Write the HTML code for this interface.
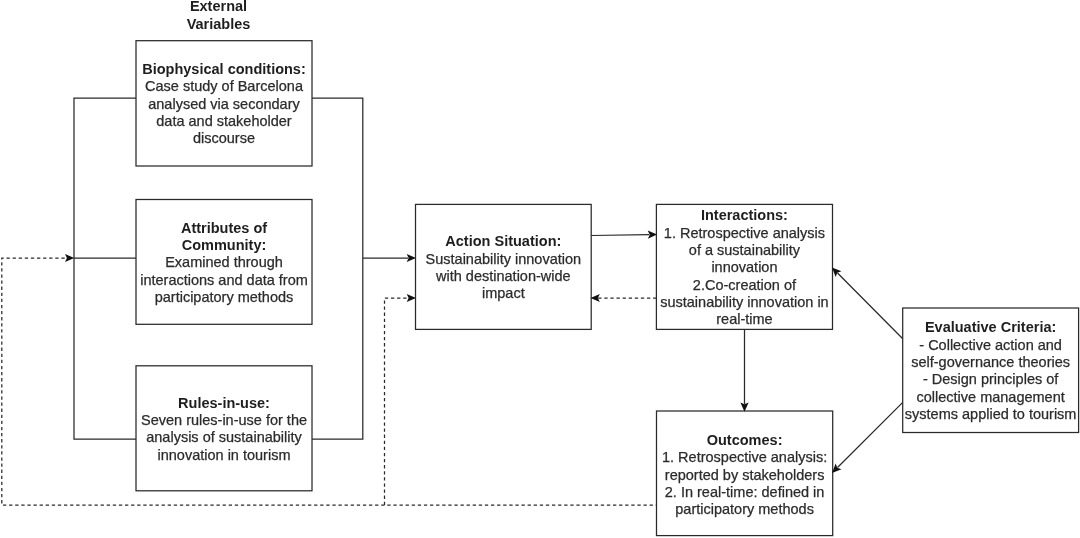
<!DOCTYPE html>
<html><head><meta charset="utf-8"><style>
html,body{margin:0;padding:0;background:#fff;width:1080px;height:538px;overflow:hidden;position:relative}
#wrap{position:absolute;left:0;top:0;width:1080px;height:538px;filter:blur(0.4px)}
body{font-family:"Liberation Sans",sans-serif;font-size:14.50px;line-height:17.35px}
svg{position:absolute;left:0;top:0}
.box{position:absolute;display:flex;align-items:center;justify-content:center;text-align:center;white-space:nowrap}
.b{font-weight:bold;color:#1e1e1e}
.n{color:#2b2b2b;-webkit-text-stroke:0.25px #2b2b2b}
</style></head><body>
<div id="wrap"><svg width="1080" height="538" viewBox="0 0 1080 538"><rect x="136.00" y="40.70" width="176.00" height="125.30" fill="none" stroke="#2a2a2a" stroke-width="1.25"/>
<rect x="136.00" y="199.50" width="176.00" height="124.80" fill="none" stroke="#2a2a2a" stroke-width="1.25"/>
<rect x="136.00" y="365.80" width="176.00" height="125.00" fill="none" stroke="#2a2a2a" stroke-width="1.25"/>
<rect x="415.50" y="204.40" width="175.70" height="125.00" fill="none" stroke="#2a2a2a" stroke-width="1.25"/>
<rect x="656.40" y="204.40" width="176.10" height="125.00" fill="none" stroke="#2a2a2a" stroke-width="1.25"/>
<rect x="656.50" y="411.00" width="176.20" height="124.60" fill="none" stroke="#2a2a2a" stroke-width="1.25"/>
<rect x="902.70" y="308.00" width="175.90" height="124.50" fill="none" stroke="#2a2a2a" stroke-width="1.25"/>
<path d="M136,98 H74 V439 H136 M74,258 H136 M312,98 H362.8 V439 H312 M362.8,258 H408" fill="none" stroke="#2a2a2a" stroke-width="1.25"/>
<polygon points="416.00,258.00 406.70,262.10 408.60,258.00 406.70,253.90" fill="#111"/>
<path d="M591.2,235.5 L649,234.7 M744.5,329.4 V404 M902.5,338.5 L837.5,273 M902.5,402.6 L837.5,467.5" fill="none" stroke="#2a2a2a" stroke-width="1.25"/>
<polygon points="657.10,234.59 647.86,238.82 649.70,234.69 647.74,230.62" fill="#111"/>
<polygon points="744.50,411.70 740.40,402.40 744.50,404.30 748.60,402.40" fill="#111"/>
<polygon points="832.01,267.50 841.47,271.21 837.22,272.75 835.65,276.99" fill="#111"/>
<polygon points="832.00,472.99 835.69,463.52 837.24,467.77 841.48,469.32" fill="#111"/>
<path d="M656.5,505 H1.8 V258 H67" fill="none" stroke="#2a2a2a" stroke-width="1.25" stroke-dasharray="3.3 2.8" stroke-dashoffset="2.5"/>
<path d="M384.5,505 V298 H408 M656.4,298 H598" fill="none" stroke="#2a2a2a" stroke-width="1.25" stroke-dasharray="3.3 2.8"/>
<polygon points="74.30,258.00 65.00,262.10 66.90,258.00 65.00,253.90" fill="#111"/>
<polygon points="416.00,298.00 406.70,302.10 408.60,298.00 406.70,293.90" fill="#111"/>
<polygon points="590.50,298.00 599.80,293.90 597.90,298.00 599.80,302.10" fill="#111"/></svg>
<div class="box" style="left:136.00px;top:40.70px;width:176.00px;height:125.30px"><div style="transform:translateY(1.30px)"><div class="b">Biophysical conditions:</div><div class="n">Case study of Barcelona</div><div class="n">analysed via secondary</div><div class="n">data and stakeholder</div><div class="n">discourse</div></div></div>
<div class="box" style="left:136.00px;top:199.50px;width:176.00px;height:124.80px"><div style="transform:translateY(0.70px)"><div class="b">Attributes of</div><div class="b">Community:</div><div class="n">Examined through</div><div class="n">interactions and data from</div><div class="n">participatory methods</div></div></div>
<div class="box" style="left:136.00px;top:365.80px;width:176.00px;height:125.00px"><div style="transform:translateY(1.10px)"><div class="b">Rules-in-use:</div><div class="n">Seven rules-in-use for the</div><div class="n">analysis of sustainability</div><div class="n">innovation in tourism</div></div></div>
<div class="box" style="left:415.50px;top:204.40px;width:175.70px;height:125.00px"><div style="transform:translateY(0.90px)"><div class="b">Action Situation:</div><div class="n">Sustainability innovation</div><div class="n">with destination-wide</div><div class="n">impact</div></div></div>
<div class="box" style="left:656.40px;top:204.40px;width:176.10px;height:125.00px"><div style="transform:translateY(1.30px)"><div class="b">Interactions:</div><div class="n">1. Retrospective analysis</div><div class="n">of a sustainability</div><div class="n">innovation</div><div class="n">2.Co-creation of</div><div class="n">sustainability innovation in</div><div class="n">real-time</div></div></div>
<div class="box" style="left:656.50px;top:411.00px;width:176.20px;height:124.60px"><div style="transform:translateY(1.70px)"><div class="b">Outcomes:</div><div class="n">1. Retrospective analysis:</div><div class="n">reported by stakeholders</div><div class="n">2. In real-time: defined in</div><div class="n">participatory methods</div></div></div>
<div class="box" style="left:902.70px;top:308.00px;width:175.90px;height:124.50px"><div style="transform:translateY(1.30px)"><div class="b">Evaluative Criteria:</div><div class="n">- Collective action and</div><div class="n">self-governance theories</div><div class="n">- Design principles of</div><div class="n">collective management</div><div class="n">systems applied to tourism</div></div></div>
<div class="box" style="left:168.5px;top:-1.5px;width:100px;height:34.5px"><div><div class="b">External</div><div class="b">Variables</div></div></div>
</div></body></html>
